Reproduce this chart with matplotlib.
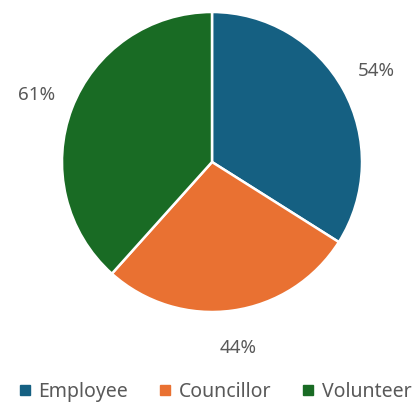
import numpy as np
import matplotlib
matplotlib.use("Agg")
import matplotlib.pyplot as plt
from matplotlib.lines import Line2D

plt.rcParams["font.family"] = ["Noto Sans", "DejaVu Sans"]

# ── Data ───────────────────────────────────────────────────────────────────
categories = ["Employee", "Councillor", "Volunteer"]
values     = [54, 44, 61]
colors     = ["#156082", "#E97132", "#196B24"]
TXT = "#595959"

W, H, DPI = 416, 403, 100
fig = plt.figure(figsize=(W / DPI, H / DPI), dpi=DPI)

# pie centre (212, 162) px from top-left, radius 150 px
R_PX, LIM = 150, 1.4
side = 2 * LIM * R_PX
cx, cy = 212, H - 162
ax = fig.add_axes([(cx - side / 2) / W, (cy - side / 2) / H, side / W, side / H])

wedges, _ = ax.pie(
    values, colors=colors, startangle=90, counterclock=False,
    wedgeprops=dict(edgecolor="white", linewidth=1.8),
)
# value labels just outside each wedge
for w, v in zip(wedges, values):
    ang = np.deg2rad((w.theta1 + w.theta2) / 2)
    ax.text(1.25 * np.cos(ang), 1.25 * np.sin(ang), f"{v}%",
            ha="center", va="center", color=TXT, fontsize=13.5)
ax.set_xlim(-LIM, LIM)
ax.set_ylim(-LIM, LIM)
ax.set_aspect("auto")

handles = [Line2D([], [], marker="s", linestyle="none", markersize=6.5,
                  markerfacecolor=c, markeredgecolor=c) for c in colors]
fig.legend(handles, categories, loc="center", bbox_to_anchor=(0.515, 1 - 392 / H),
           ncol=3, frameon=False, fontsize=14, labelcolor=TXT,
           handletextpad=0.3, columnspacing=1.5, handlelength=0.8)

fig.savefig("out.png", dpi=DPI)
